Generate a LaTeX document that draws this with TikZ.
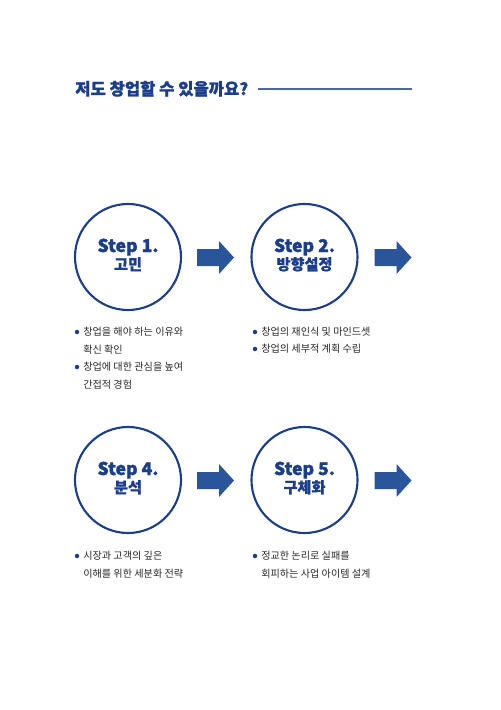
\documentclass[tikz,border=0pt]{standalone}
\usepackage{fontspec}
\newfontfamily\kr{Noto Sans CJK KR}
\newfontfamily\krh[BoldFeatures={FakeBold=1.2}]{Noto Sans CJK KR}
\definecolor{cNavy}{RGB}{26,61,140}
\definecolor{cArr}{RGB}{43,85,155}
\definecolor{cRule}{RGB}{72,104,163}
\definecolor{cTxt}{RGB}{40,40,40}

\begin{document}
\begin{tikzpicture}[
  x=0.025cm, y=-0.025cm, font=\kr, color=cTxt,
  ring/.style ={circle, draw=cNavy, line width=1.5pt, minimum size=2.65cm, inner sep=0pt},
  stp/.style  ={anchor=base, cNavy, font=\krh\bfseries\fontsize{12.5}{14}\selectfont},
  sub/.style  ={anchor=base, cNavy, font=\krh\bfseries\fontsize{10.8}{12}\selectfont},
  dot/.style  ={circle, fill=cNavy, inner sep=0pt, minimum size=3.2pt},
  key/.style  ={anchor=base west, cTxt, inner sep=0pt,
                font=\kr\fontsize{7.2}{12.4}\selectfont},
]

\useasboundingbox (0,0) rectangle (500,710);

% ----- heading ------------------------------------------------------------
\node[anchor=base west, inner sep=0pt, cNavy, font=\krh\bfseries\fontsize{11.8}{13}\selectfont]
  (head) at (75,95) {저도 창업할 수 있을까요?};
\coordinate (ruleA) at (258,89);
\coordinate (ruleB) at (412,89);
\draw[cRule, line width=0.8pt] (ruleA) -- (ruleB);

% ----- step circles -------------------------------------------------------
\node[ring] (c1) at (128,257)   {};
\node[ring] (c2) at (304.5,257) {};
\node[ring] (c4) at (128,480)   {};
\node[ring] (c5) at (304.5,480) {};

\node[stp] (c1a) at (128,252)   {Step 1.};
\node[sub] (c1b) at (128,270)   {고민};
\node[stp] (c2a) at (304.5,252) {Step 2.};
\node[sub] (c2b) at (304.5,270) {방향설정};
\node[stp] (c4a) at (128,475)   {Step 4.};
\node[sub] (c4b) at (128,493)   {분석};
\node[stp] (c5a) at (304.5,475) {Step 5.};
\node[sub] (c5b) at (304.5,493) {구체화};

% ----- block arrows: body 17 px, head 33 px, tip 15 px ------------------
\foreach \ax/\ay in {215.5/257.5, 393/257.5, 215.5/480.5, 393/480.5}{
  \fill[cArr] (\ax-18.5,\ay-8.5) -- (\ax+3.5,\ay-8.5) -- (\ax+3.5,\ay-16.5)
    -- (\ax+18.5,\ay) -- (\ax+3.5,\ay+16.5) -- (\ax+3.5,\ay+8.5)
    -- (\ax-18.5,\ay+8.5) -- cycle;}

% ----- notes under each step ----------------------------------------------
\node[dot] (d1) at (77,332)  {};
\node[key] (k1)  at (83,335.5)   {창업을 해야 하는 이유와};
\node[key] (k1b) at (83,353)     {확신 확인};
\node[dot] (d2) at (77,367)  {};
\node[key] (k2)  at (83,370.5)   {창업에 대한 관심을 높여};
\node[key] (k2b) at (83,388)     {간접적 경험};

\node[dot] (d3) at (255,332) {};
\node[key] (k3)  at (261,335.5)  {창업의 재인식 및 마인드셋};
\node[dot] (d4) at (255,349) {};
\node[key] (k4)  at (261,352.5)  {창업의 세부적 계획 수립};

\node[dot] (d5) at (77,556)  {};
\node[key] (k5)  at (83,559.5)   {시장과 고객의 깊은};
\node[key] (k5b) at (83,577)     {이해를 위한 세분화 전략};
\node[dot] (d6) at (255,556) {};
\node[key] (k6)  at (261,559.5)  {정교한 논리로 실패를};
\node[key] (k6b) at (261,577)    {회피하는 사업 아이템 설계};

\end{tikzpicture}
\end{document}
